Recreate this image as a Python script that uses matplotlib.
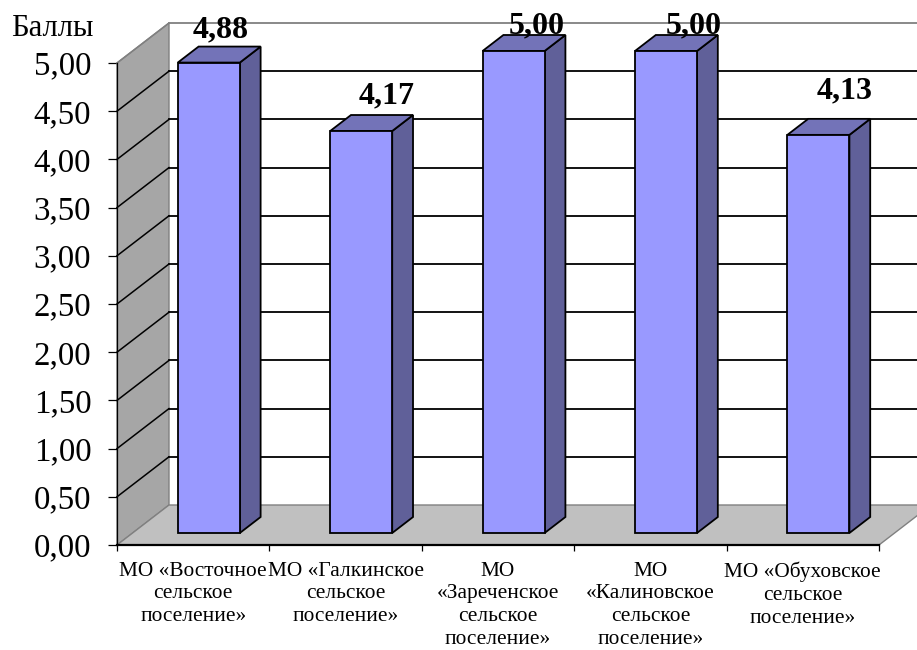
import matplotlib
matplotlib.use("Agg")
import matplotlib.pyplot as plt
from matplotlib.patches import Polygon

categories = ["МО «Восточное\nсельское\nпоселение»",
              "МО «Галкинское\nсельское\nпоселение»",
              "МО\n«Зареченское\nсельское\nпоселение»",
              "МО\n«Калиновское\nсельское\nпоселение»",
              "МО «Обуховское\nсельское\nпоселение»"]
values = [4.88, 4.17, 5.00, 5.00, 4.13]
yticks = [0, 0.5, 1, 1.5, 2, 2.5, 3, 3.5, 4, 4.5, 5]
label_dx = [1, 15, 13, 17, 16]
label_dy = [25, 27, 17, 17, 36]

plt.rcParams['font.family'] = ['Liberation Serif', 'DejaVu Serif']
W, H = 917, 650
fig = plt.figure(figsize=(W/100, H/100), dpi=100, facecolor='white')
ax = fig.add_axes([117/W, (H-545)/H, 762/W, 482/H])
ax.set_xlim(0, 5)
ax.set_ylim(0, 5)

DX = 52/152.4
DY = 40/96.4
def P(x, y, d):
    return (x + d*DX, y + d*DY)

# walls
wall = '#a6a6a6'
floor = '#c0c0c0'
ax.add_patch(Polygon([P(0, 0, 0), P(0, 5, 0), P(0, 5, 1), P(0, 0, 1)], fc=wall, ec='#808080', lw=1, clip_on=False, zorder=1))
ax.add_patch(Polygon([P(0, 0, 0), P(5, 0, 0), P(5, 0, 1), P(0, 0, 1)], fc=floor, ec='#808080', lw=1, clip_on=False, zorder=1))

# gridlines
for v in yticks[1:]:
    col = '#808080' if v == 5 else 'black'
    a, b, c = P(0, v, 0), P(0, v, 1), P(5, v, 1)
    ax.plot([a[0], b[0]], [a[1], b[1]], color=col, lw=1.1, clip_on=False, zorder=2)
    ax.plot([b[0], c[0]], [b[1], c[1]], color=col, lw=1.3, clip_on=False, zorder=2)

# bars
width = 0.407
d0, d1 = 0.3, 0.7
for i, v in enumerate(values):
    l = i + 0.5 - width/2
    r = i + 0.5 + width/2
    ax.add_patch(Polygon([P(r, 0, d0), P(r, 0, d1), P(r, v, d1), P(r, v, d0)], fc='#606099', ec='black', lw=1.3, clip_on=False, zorder=3))
    ax.add_patch(Polygon([P(l, v, d0), P(r, v, d0), P(r, v, d1), P(l, v, d1)], fc='#7373b8', ec='black', lw=1.3, clip_on=False, zorder=3))
    ax.add_patch(Polygon([P(l, 0, d0), P(r, 0, d0), P(r, v, d0), P(l, v, d0)], fc='#9999ff', ec='black', lw=1.3, clip_on=False, zorder=4))
    ax.annotate(f"{v:.2f}".replace('.', ','), P(i + 0.5, v, 0.5),
                xytext=(label_dx[i]*0.72, label_dy[i]*0.72), textcoords='offset points',
                ha='center', va='center', fontsize=23, fontweight='bold', color='black', zorder=6,
                annotation_clip=False)

# axes
for s in ('top', 'right'):
    ax.spines[s].set_visible(False)
ax.spines['left'].set_linewidth(0.9)
ax.spines['bottom'].set_linewidth(1.6)
ax.spines['left'].set_zorder(5)
ax.spines['bottom'].set_zorder(5)
ax.patch.set_alpha(0)
ax.set_yticks(yticks)
ax.set_yticklabels([f"{v:.2f}".replace('.', ',') for v in yticks], fontsize=23.7)
ax.tick_params(axis='y', length=6.5, width=0.9, pad=12)
ax.set_xticks(range(6))
ax.set_xticklabels([])
ax.tick_params(axis='x', which='major', length=4.5, width=0.9)
ax.set_xticks([i + 0.5 for i in range(5)], minor=True)
ax.set_xticklabels(categories, minor=True, fontsize=15.4, linespacing=1.27)
ax.tick_params(axis='x', which='minor', length=0, pad=12)

fig.text(11/W, 1 - 28/H, "Баллы", fontsize=22, ha='left', va='center')
fig.savefig('out.png', dpi=100)
